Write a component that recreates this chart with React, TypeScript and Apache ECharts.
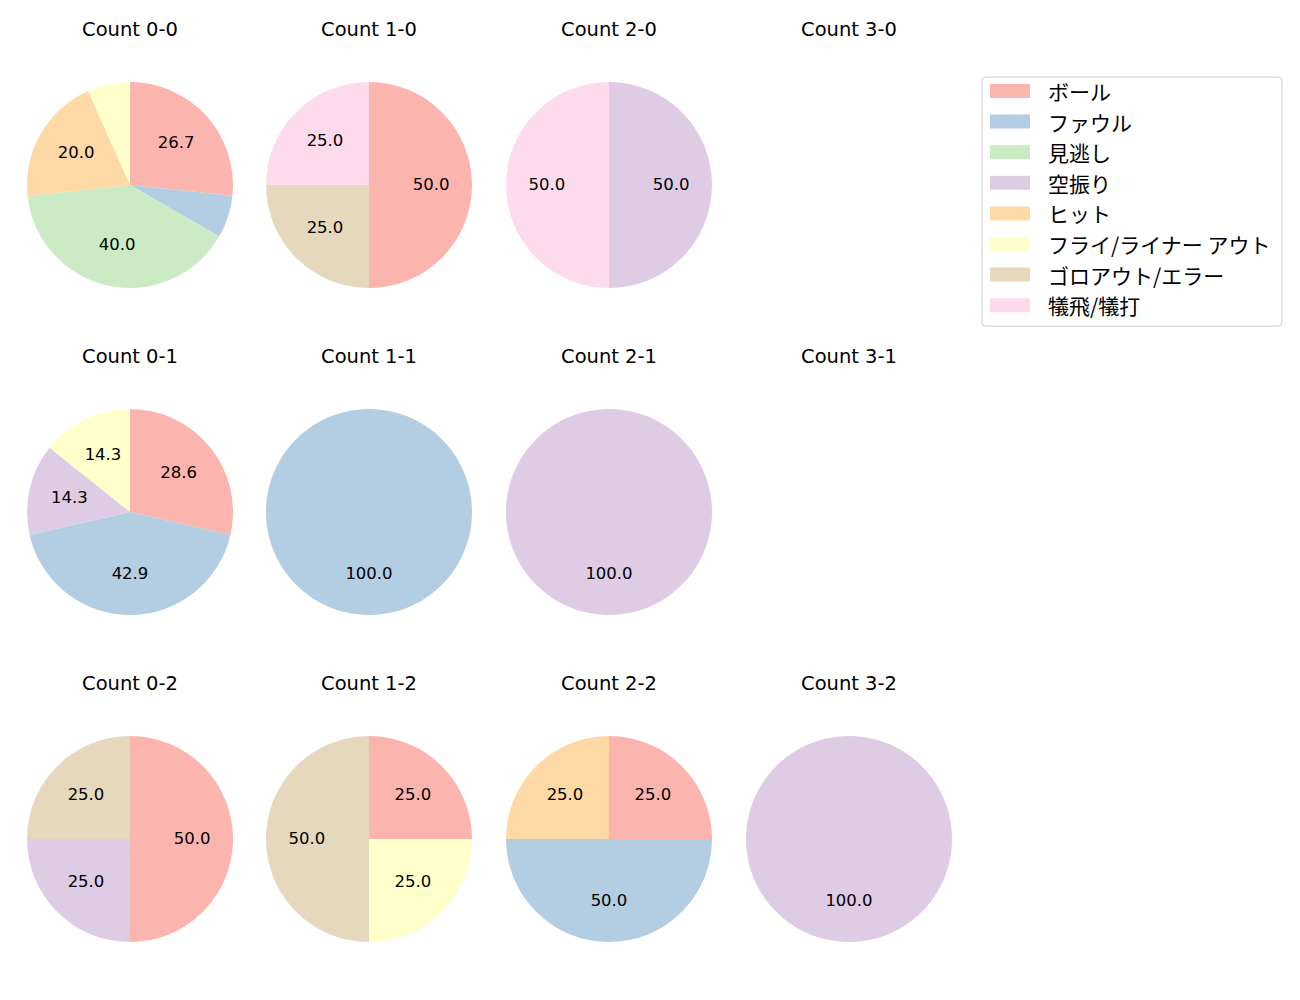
import React, { useEffect, useRef } from "react";
import * as echarts from "echarts";

const outcomeNames = [
  "ボール",
  "ファウル",
  "見逃し",
  "空振り",
  "ヒット",
  "フライ/ライナー アウト",
  "ゴロアウト/エラー",
  "犠飛/犠打",
];
const outcomeColors = [
  "#fbb4ae",
  "#b3cde3",
  "#ccebc5",
  "#decbe4",
  "#fed9a6",
  "#ffffcc",
  "#e5d8bd",
  "#fddaec",
];

// counts per outcome (same order as outcomeNames)
const count00 = [4, 1, 6, 0, 3, 1, 0, 0];
const count10 = [2, 0, 0, 0, 0, 0, 1, 1];
const count20 = [0, 0, 0, 1, 0, 0, 0, 1];
const count30: number[] = [0, 0, 0, 0, 0, 0, 0, 0];
const count01 = [2, 3, 0, 1, 0, 1, 0, 0];
const count11 = [0, 1, 0, 0, 0, 0, 0, 0];
const count21 = [0, 0, 0, 1, 0, 0, 0, 0];
const count31: number[] = [0, 0, 0, 0, 0, 0, 0, 0];
const count02 = [2, 0, 0, 1, 0, 0, 1, 0];
const count12 = [1, 0, 0, 0, 0, 1, 2, 0];
const count22 = [1, 2, 0, 0, 1, 0, 0, 0];
const count32 = [0, 0, 0, 1, 0, 0, 0, 0];

const countTitles = [
  ["Count 0-0", "Count 1-0", "Count 2-0", "Count 3-0"],
  ["Count 0-1", "Count 1-1", "Count 2-1", "Count 3-1"],
  ["Count 0-2", "Count 1-2", "Count 2-2", "Count 3-2"],
];
const countValues = [
  [count00, count10, count20, count30],
  [count01, count11, count21, count31],
  [count02, count12, count22, count32],
];

const LATIN = "'DejaVu Sans', 'Noto Sans CJK JP', sans-serif";
const JP = "'Noto Sans CJK JP', 'Noto Sans', sans-serif";

export default function App() {
  const ref = useRef<HTMLDivElement>(null);
  useEffect(() => {
    document.body.style.margin = "0";
    if (!ref.current) return;
    const chart = echarts.init(ref.current, null, { renderer: "svg" });
    const colX = [130, 369, 609, 849];
    const rowY = [185, 512, 839];
    const titleY = [29, 356, 683];
    const R = 103;
    const pies: any[] = [];
    const overlays: any[] = [];
    const graphics: any[] = [];
    countTitles.forEach((row, ri) => {
      row.forEach((title, ci) => {
        graphics.push({
          type: "text",
          x: colX[ci],
          y: titleY[ri],
          style: {
            text: title,
            fill: "#000",
            font: `19.5px ${LATIN}`,
            textAlign: "center",
            textVerticalAlign: "middle",
          },
        });
        const vals = countValues[ri][ci];
        const total = vals.reduce((a, b) => a + b, 0);
        if (total === 0) return;
        const data = outcomeNames
          .map((name, i) => ({ name, value: vals[i], idx: i }))
          .filter((d) => d.value > 0);
        pies.push({
          type: "pie",
          center: [colX[ci], rowY[ri]],
          radius: [0, R],
          startAngle: 90,
          clockwise: true,
          silent: true,
          label: { show: false },
          labelLine: { show: false },
          itemStyle: { borderWidth: 0 },
          emphasis: { disabled: true },
          data: data.map((d) => ({
            name: d.name,
            value: d.value,
            itemStyle: { color: outcomeColors[d.idx] },
          })),
        });
        overlays.push({
          type: "pie",
          center: [colX[ci], rowY[ri] - 1],
          radius: [R * 0.15, R],
          startAngle: 90,
          clockwise: true,
          silent: true,
          labelLine: { show: false },
          emphasis: { disabled: true },
          itemStyle: { color: "rgba(0,0,0,0)", borderWidth: 0 },
          label: {
            position: "inside",
            color: "#000",
            fontSize: 16.5,
            fontFamily: LATIN,
            formatter: (p: any) => ((p.value / total) * 100).toFixed(1),
          },
          data: data.map((d) => ({
            name: d.name,
            value: d.value,
            itemStyle: { color: "rgba(0,0,0,0)" },
            label: { show: (d.value / total) * 100 >= 10 },
          })),
        });
      });
    });
    chart.setOption({
      animation: false,
      legend: {
        data: outcomeNames,
        orient: "vertical",
        left: 982,
        top: 77,
        icon: "rect",
        itemWidth: 40,
        itemHeight: 14,
        itemGap: 8.6,
        padding: [3, 11, 10, 8],
        borderColor: "#cccccc",
        borderWidth: 1,
        borderRadius: 4,
        selectedMode: false,
        textStyle: {
          fontSize: 21,
          fontFamily: JP,
          color: "#000",
          lineHeight: 22,
          padding: [0, 0, 0, 13],
        },
      },
      graphic: graphics,
      series: [...pies, ...overlays],
    });
    return () => chart.dispose();
  }, []);
  return <div ref={ref} style={{ width: 1300, height: 1000 }} />;
}
